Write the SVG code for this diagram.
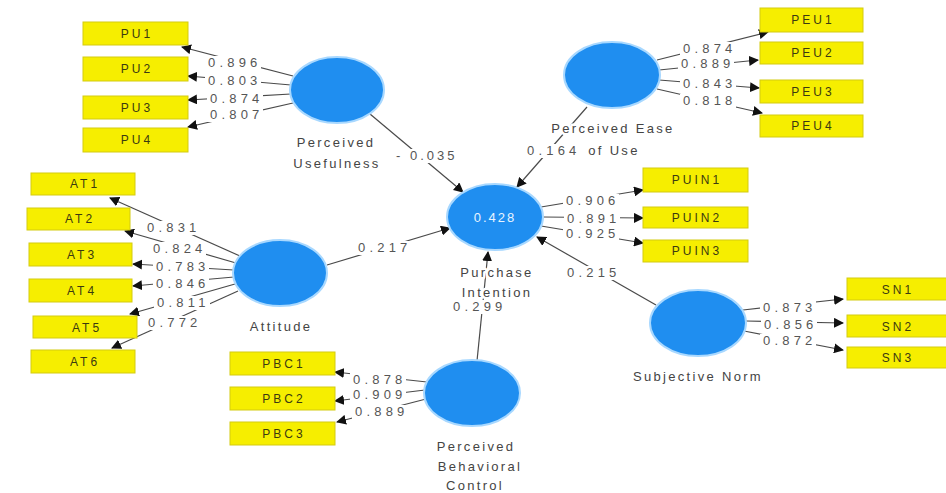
<svg xmlns="http://www.w3.org/2000/svg" width="946" height="493" viewBox="0 0 946 493">
  <defs>
    <marker id="arr" viewBox="0 0 10 10" refX="9" refY="5" markerWidth="10" markerHeight="10" markerUnits="userSpaceOnUse" orient="auto">
      <path d="M0,0 L10,5 L0,10 z" fill="#111"/>
    </marker>
    <style>
      .lv { fill: #1f8ef0; stroke: #a8d8ff; stroke-width: 2; }
      .ind rect { fill: #f6ee00; stroke: #d4cb10; stroke-width: 1; }
      .ind text { font-family: "Liberation Sans", Arial, sans-serif; font-size: 12px; letter-spacing: 3px; fill: #3b3a10; text-anchor: middle; }
      .edge { stroke: #4a4a4a; stroke-width: 1.2; fill: none; marker-end: url(#arr); }
      .bg { fill: #fff; }
      .num { font-family: "Liberation Sans", Arial, sans-serif; font-size: 13px; letter-spacing: 4.2px; fill: #555; }
      .name { font-family: "Liberation Sans", Arial, sans-serif; font-size: 13px; letter-spacing: 2.3px; fill: #444; text-anchor: middle; paint-order: stroke; stroke: #fff; stroke-width: 5px; stroke-linejoin: round; }
      .r2 { font-family: "Liberation Sans", Arial, sans-serif; font-size: 13px; letter-spacing: 2px; fill: #e8f4ff; text-anchor: middle; }
    </style>
  </defs>
  <rect width="946" height="493" fill="#fff"/>

  <!-- connectors: outer loadings and inner path coefficients -->
  <g id="connectors">
    <!-- Perceived Usefulness -> indicators -->
    <line class="edge" x1="293" y1="76" x2="182" y2="47"/>
    <line class="edge" x1="291" y1="85" x2="188" y2="76"/>
    <line class="edge" x1="291" y1="94" x2="188" y2="100"/>
    <line class="edge" x1="293" y1="103" x2="188" y2="127"/>
    <!-- Perceived Ease of Use -> indicators -->
    <line class="edge" x1="657" y1="60" x2="768" y2="32"/>
    <line class="edge" x1="659" y1="70" x2="758" y2="60"/>
    <line class="edge" x1="659" y1="80" x2="759" y2="88"/>
    <line class="edge" x1="657" y1="89" x2="762" y2="113"/>
    <!-- Purchase Intention -> indicators -->
    <line class="edge" x1="541" y1="207" x2="643" y2="190"/>
    <line class="edge" x1="543" y1="217" x2="643" y2="218"/>
    <line class="edge" x1="541" y1="226" x2="643" y2="243"/>
    <!-- Attitude -> indicators -->
    <line class="edge" x1="240" y1="256" x2="110" y2="198"/>
    <line class="edge" x1="236" y1="263" x2="125" y2="231"/>
    <line class="edge" x1="234" y1="270" x2="133" y2="264"/>
    <line class="edge" x1="234" y1="277" x2="133" y2="286"/>
    <line class="edge" x1="235" y1="284" x2="130" y2="314"/>
    <line class="edge" x1="238" y1="291" x2="112" y2="348"/>
    <!-- Subjective Norm -> indicators -->
    <line class="edge" x1="743" y1="310" x2="843" y2="299"/>
    <line class="edge" x1="746" y1="321" x2="843" y2="323"/>
    <line class="edge" x1="744" y1="331" x2="843" y2="350"/>
    <!-- Perceived Behavioral Control -> indicators -->
    <line class="edge" x1="427" y1="382" x2="335" y2="372"/>
    <line class="edge" x1="425" y1="390" x2="335" y2="401"/>
    <line class="edge" x1="426" y1="399" x2="337" y2="422"/>
    <!-- structural paths -->
    <line class="edge" x1="370" y1="114" x2="463" y2="192"/>
    <line class="edge" x1="587" y1="107" x2="517" y2="187"/>
    <line class="edge" x1="327" y1="265" x2="450" y2="228"/>
    <line class="edge" x1="656" y1="305" x2="537" y2="237"/>
    <line class="edge" x1="477" y1="361" x2="488" y2="252"/>

    <!-- label backgrounds (mask the lines under the coefficients) -->
    <rect class="bg" x="205" y="56" width="56" height="14"/>
    <rect class="bg" x="205" y="74" width="56" height="14"/>
    <rect class="bg" x="207" y="92" width="56" height="14"/>
    <rect class="bg" x="207" y="108" width="56" height="14"/>
    <rect class="bg" x="680" y="42" width="56" height="14"/>
    <rect class="bg" x="678" y="57" width="56" height="14"/>
    <rect class="bg" x="680" y="77" width="56" height="14"/>
    <rect class="bg" x="680" y="94" width="56" height="14"/>
    <rect class="bg" x="563" y="194" width="56" height="14"/>
    <rect class="bg" x="564" y="212" width="56" height="14"/>
    <rect class="bg" x="563" y="227" width="56" height="14"/>
    <rect class="bg" x="144" y="221" width="56" height="14"/>
    <rect class="bg" x="150" y="242" width="56" height="14"/>
    <rect class="bg" x="153" y="260" width="56" height="14"/>
    <rect class="bg" x="153" y="277" width="56" height="14"/>
    <rect class="bg" x="154" y="296" width="56" height="14"/>
    <rect class="bg" x="145" y="316" width="56" height="14"/>
    <rect class="bg" x="760" y="301" width="56" height="14"/>
    <rect class="bg" x="761" y="318" width="56" height="14"/>
    <rect class="bg" x="760" y="334" width="56" height="14"/>
    <rect class="bg" x="350" y="373" width="56" height="14"/>
    <rect class="bg" x="350" y="388" width="56" height="14"/>
    <rect class="bg" x="352" y="405" width="56" height="14"/>
    <rect class="bg" x="393" y="149" width="60" height="14"/>
    <rect class="bg" x="524" y="144" width="56" height="14"/>
    <rect class="bg" x="355" y="241" width="56" height="14"/>
    <rect class="bg" x="564" y="266" width="56" height="14"/>
    <rect class="bg" x="450" y="300" width="56" height="14"/>

    <!-- coefficient labels -->
    <text class="num" x="208" y="67">0.896</text>
    <text class="num" x="208" y="85">0.803</text>
    <text class="num" x="210" y="103">0.874</text>
    <text class="num" x="210" y="119">0.807</text>

    <text class="num" x="683" y="53">0.874</text>
    <text class="num" x="681" y="68">0.889</text>
    <text class="num" x="683" y="88">0.843</text>
    <text class="num" x="683" y="105">0.818</text>

    <text class="num" x="566" y="205">0.906</text>
    <text class="num" x="567" y="223">0.891</text>
    <text class="num" x="566" y="238">0.925</text>

    <text class="num" x="147" y="232">0.831</text>
    <text class="num" x="153" y="253">0.824</text>
    <text class="num" x="156" y="271">0.783</text>
    <text class="num" x="156" y="288">0.846</text>
    <text class="num" x="157" y="307">0.811</text>
    <text class="num" x="148" y="327">0.772</text>

    <text class="num" x="763" y="312">0.873</text>
    <text class="num" x="764" y="329">0.856</text>
    <text class="num" x="763" y="345">0.872</text>

    <text class="num" x="353" y="384">0.878</text>
    <text class="num" x="353" y="399">0.909</text>
    <text class="num" x="355" y="416">0.889</text>

    <text class="num" x="396" y="160" style="letter-spacing:3px">- 0.035</text>
    <text class="num" x="527" y="155">0.164</text>
    <text class="num" x="358" y="252">0.217</text>
    <text class="num" x="567" y="277">0.215</text>
    <text class="num" x="453" y="311">0.299</text>
  </g>

  <!-- latent variables -->
  <g id="perceived-usefulness">
    <ellipse class="lv" cx="337" cy="90" rx="47" ry="33"/>
    <text class="name" x="336" y="147">Perceived</text>
    <text class="name" x="337" y="168">Usefulness</text>
  </g>
  <g id="perceived-ease-of-use">
    <ellipse class="lv" cx="612" cy="75" rx="48" ry="33"/>
    <text class="name" x="613" y="133">Perceived Ease</text>
    <text class="name" x="614" y="155">of Use</text>
  </g>
  <g id="purchase-intention">
    <ellipse class="lv" cx="495" cy="217" rx="48" ry="33"/>
    <text class="r2" x="495" y="222">0.428</text>
    <text class="name" x="497" y="277">Purchase</text>
    <text class="name" x="497" y="297">Intention</text>
  </g>
  <g id="attitude">
    <ellipse class="lv" cx="280" cy="273" rx="47" ry="33"/>
    <text class="name" x="281" y="331">Attitude</text>
  </g>
  <g id="subjective-norm">
    <ellipse class="lv" cx="698" cy="323" rx="48" ry="33"/>
    <text class="name" x="698" y="381">Subjective Norm</text>
  </g>
  <g id="perceived-behavioral-control">
    <ellipse class="lv" cx="472" cy="393" rx="48" ry="33"/>
    <text class="name" x="476" y="451">Perceived</text>
    <text class="name" x="480" y="471">Behavioral</text>
    <text class="name" x="475" y="490">Control</text>
  </g>

  <!-- indicators -->
  <g id="PU1" class="ind"><rect x="83" y="22" width="105" height="23"/><text x="137" y="38">PU1</text></g>
  <g id="PU2" class="ind"><rect x="83" y="57" width="105" height="24"/><text x="137" y="73">PU2</text></g>
  <g id="PU3" class="ind"><rect x="83" y="96" width="105" height="23"/><text x="137" y="112">PU3</text></g>
  <g id="PU4" class="ind"><rect x="83" y="128" width="105" height="24"/><text x="137" y="144">PU4</text></g>

  <g id="PEU1" class="ind"><rect x="760" y="8" width="103" height="24"/><text x="813" y="24">PEU1</text></g>
  <g id="PEU2" class="ind"><rect x="760" y="42" width="103" height="22"/><text x="813" y="57">PEU2</text></g>
  <g id="PEU3" class="ind"><rect x="760" y="80" width="103" height="23"/><text x="813" y="96">PEU3</text></g>
  <g id="PEU4" class="ind"><rect x="760" y="115" width="103" height="22"/><text x="813" y="130">PEU4</text></g>

  <g id="PUIN1" class="ind"><rect x="643" y="168" width="105" height="24"/><text x="697" y="184">PUIN1</text></g>
  <g id="PUIN2" class="ind"><rect x="643" y="207" width="105" height="21"/><text x="697" y="222">PUIN2</text></g>
  <g id="PUIN3" class="ind"><rect x="643" y="240" width="105" height="22"/><text x="697" y="255">PUIN3</text></g>

  <g id="AT1" class="ind"><rect x="31" y="173" width="104" height="22"/><text x="85" y="188">AT1</text></g>
  <g id="AT2" class="ind"><rect x="27" y="208" width="103" height="22"/><text x="80" y="223">AT2</text></g>
  <g id="AT3" class="ind"><rect x="29" y="243" width="103" height="23"/><text x="82" y="259">AT3</text></g>
  <g id="AT4" class="ind"><rect x="29" y="279" width="103" height="23"/><text x="82" y="295">AT4</text></g>
  <g id="AT5" class="ind"><rect x="33" y="316" width="104" height="22"/><text x="87" y="332">AT5</text></g>
  <g id="AT6" class="ind"><rect x="31" y="350" width="104" height="23"/><text x="85" y="366">AT6</text></g>

  <g id="SN1" class="ind"><rect x="847" y="278" width="100" height="22"/><text x="898" y="294">SN1</text></g>
  <g id="SN2" class="ind"><rect x="847" y="315" width="100" height="22"/><text x="898" y="331">SN2</text></g>
  <g id="SN3" class="ind"><rect x="847" y="347" width="100" height="21"/><text x="898" y="362">SN3</text></g>

  <g id="PBC1" class="ind"><rect x="230" y="352" width="105" height="23"/><text x="284" y="368">PBC1</text></g>
  <g id="PBC2" class="ind"><rect x="230" y="387" width="105" height="23"/><text x="284" y="403">PBC2</text></g>
  <g id="PBC3" class="ind"><rect x="230" y="422" width="105" height="23"/><text x="284" y="438">PBC3</text></g>
</svg>
